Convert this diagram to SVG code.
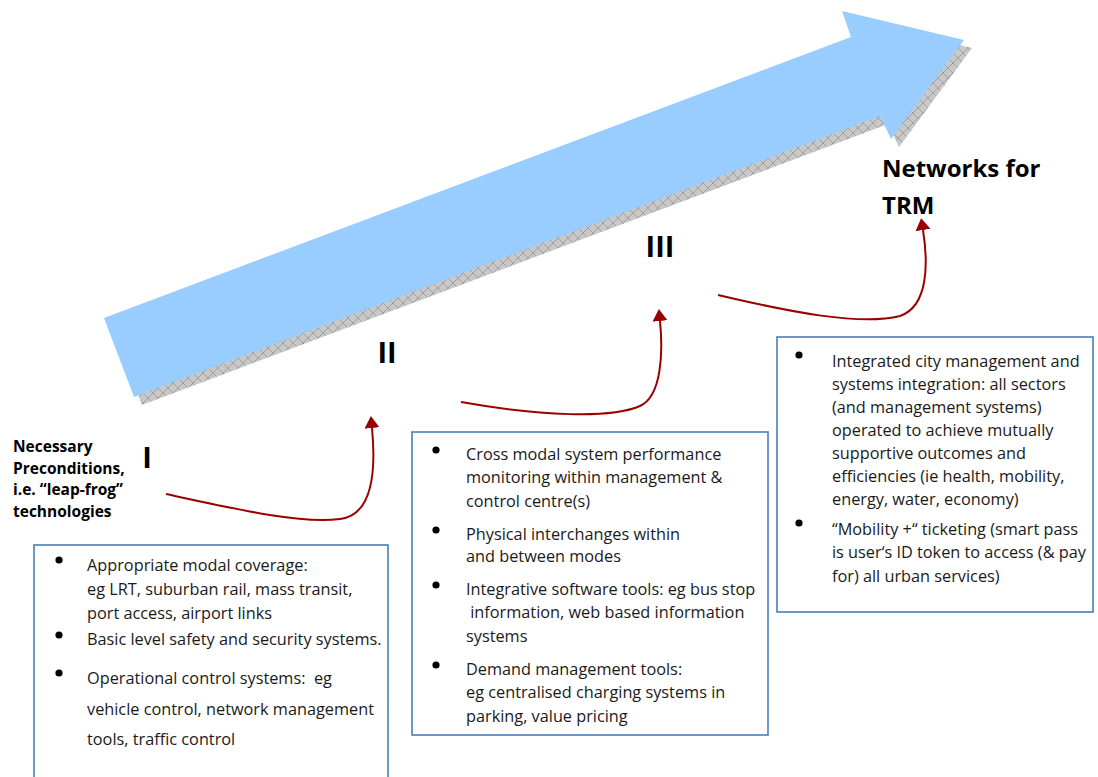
<svg xmlns="http://www.w3.org/2000/svg" width="1098" height="777" viewBox="0 0 1098 777">
  <defs>
    <!-- cross-hatched grey fill used for the arrow's drop shadow -->
    <pattern id="hatch" width="10" height="10" patternUnits="userSpaceOnUse">
      <rect width="10" height="10" fill="#c8c8c8"/>
      <path d="M0,0 L10,10 M10,0 L0,10" stroke="#909090" stroke-width="0.7"/>
    </pattern>
    <marker id="head" viewBox="0 0 12 15" refX="0" refY="7.5" markerWidth="12" markerHeight="15" markerUnits="userSpaceOnUse" orient="auto">
      <path d="M0,0 L12,7.5 L0,15 z" fill="#9b0000"/>
    </marker>
    <style>
      .body { font-family: "Open Sans", "Liberation Sans", sans-serif; font-size: 16.3px; fill: #1a1a1a; }
      .label { font-family: "Open Sans", "Liberation Sans", sans-serif; font-weight: bold; fill: #000; }
      .box { fill: #fff; stroke: #4a7ebb; stroke-width: 1.6; }
      .dot { fill: #000; }
      .link { fill: none; stroke: #9b0000; stroke-width: 2; marker-end: url(#head); }
    </style>
  </defs>

  <rect width="1098" height="777" fill="#fff"/>

  <!-- big progression arrow with its shadow -->
  <g id="progress-arrow">
    <polygon transform="translate(8,8)" fill="url(#hatch)" points="104,318 851,37 842,11 964,40 891,139 880,116 134,397"/>
    <polygon fill="#99ccff" points="104,318 851,37 842,11 964,40 891,139 880,116 134,397"/>
  </g>

  <!-- stage numerals -->
  <g id="stage-1"><text class="label" x="147" y="468" font-size="29" text-anchor="middle">I</text></g>
  <g id="stage-2"><text class="label" x="387" y="363" font-size="29" text-anchor="middle">II</text></g>
  <g id="stage-3"><text class="label" x="660" y="257" font-size="29" text-anchor="middle">III</text></g>

  <g id="preconditions">
    <text class="label" font-size="15.5">
      <tspan x="13" y="452">Necessary</tspan>
      <tspan x="13" y="474">Preconditions,</tspan>
      <tspan x="13" y="495">i.e. “leap-frog”</tspan>
      <tspan x="13" y="517">technologies</tspan>
    </text>
  </g>

  <g id="goal">
    <text class="label" font-size="24">
      <tspan x="882" y="177">Networks for</tspan>
      <tspan x="882" y="214">TRM</tspan>
    </text>
  </g>

  <!-- connectors between stages -->
  <g id="connectors">
    <path class="link" d="M166,494 C240,510 300,524 340,519 C373,515 376,470 372,428"/>
    <path class="link" d="M461,402 C540,416 610,419 640,406 C662,396 663,352 660,321"/>
    <path class="link" d="M718,295 C790,312 860,326 900,316 C929,306 928,262 923,230"/>
  </g>

  <!-- stage I measures -->
  <g id="box-1">
    <rect class="box" x="34" y="545" width="354" height="250"/>
    <circle class="dot" cx="59" cy="560" r="3.6"/>
    <circle class="dot" cx="59" cy="635" r="3.6"/>
    <circle class="dot" cx="59" cy="673" r="3.6"/>
    <text class="body" xml:space="preserve"><tspan x="87" y="571">Appropriate modal coverage:</tspan><tspan x="87" y="595">eg LRT, suburban rail, mass transit,</tspan><tspan x="87" y="619">port access, airport links</tspan><tspan x="87" y="645">Basic level safety and security systems.</tspan><tspan x="87" y="684">Operational control systems:  eg</tspan><tspan x="87" y="715">vehicle control, network management</tspan><tspan x="87" y="745">tools, traffic control</tspan></text>
  </g>

  <!-- stage II measures -->
  <g id="box-2">
    <rect class="box" x="412" y="432" width="356" height="303"/>
    <circle class="dot" cx="436" cy="450" r="3.6"/>
    <circle class="dot" cx="436" cy="530" r="3.6"/>
    <circle class="dot" cx="436" cy="585" r="3.6"/>
    <circle class="dot" cx="436" cy="665" r="3.6"/>
    <text class="body" xml:space="preserve"><tspan x="466" y="460">Cross modal system performance</tspan><tspan x="466" y="483">monitoring within management &amp;</tspan><tspan x="466" y="507">control centre(s)</tspan><tspan x="466" y="540">Physical interchanges within</tspan><tspan x="466" y="562">and between modes</tspan><tspan x="466" y="595">Integrative software tools: eg bus stop</tspan><tspan x="466" y="618"> information, web based information</tspan><tspan x="466" y="642">systems</tspan><tspan x="466" y="675">Demand management tools:</tspan><tspan x="466" y="698">eg centralised charging systems in</tspan><tspan x="466" y="722">parking, value pricing</tspan></text>
  </g>

  <!-- stage III measures -->
  <g id="box-3">
    <rect class="box" x="777" y="337" width="316" height="275"/>
    <circle class="dot" cx="799" cy="355" r="3.6"/>
    <circle class="dot" cx="799" cy="523" r="3.6"/>
    <text class="body">
      <tspan x="832" y="367">Integrated city management and</tspan>
      <tspan x="832" y="390">systems integration: all sectors</tspan>
      <tspan x="832" y="413">(and management systems)</tspan>
      <tspan x="832" y="436">operated to achieve mutually</tspan>
      <tspan x="832" y="459">supportive outcomes and</tspan>
      <tspan x="832" y="482">efficiencies (ie health, mobility,</tspan>
      <tspan x="832" y="505">energy, water, economy)</tspan>
      <tspan x="832" y="535">“Mobility +“ ticketing (smart pass</tspan>
      <tspan x="832" y="558">is user‘s ID token to access (&amp; pay</tspan>
      <tspan x="832" y="582">for) all urban services)</tspan>
    </text>
  </g>
</svg>
